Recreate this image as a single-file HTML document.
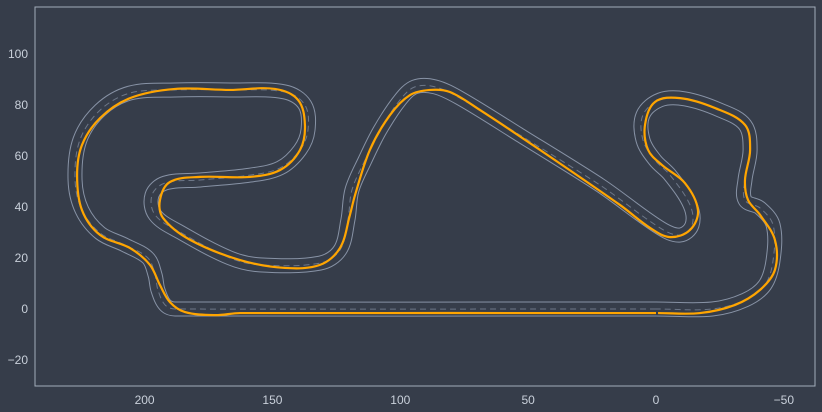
<!DOCTYPE html>
<html><head><meta charset="utf-8"><style>
html,body{margin:0;padding:0;background:#363d4a;}
svg{display:block;font-family:"Liberation Sans",sans-serif;}
</style></head><body>
<svg id="chart" width="822" height="412" viewBox="0 0 822 412"></svg>
<script>
const xTicks=[200,150,100,50,0,-50];
const xTickLabels=["200","150","100","50","0","\u221250"];
const yTicks=[100,80,60,40,20,0,-20];
const yTickLabels=["100","80","60","40","20","0","\u221220"];
const trackX=[0,188.1,192.0,194.8,195.9,198.7,207.7,217.4,224.5,227.2,225.3,217.4,205.7,188.1,166.6,145.1,137.3,136.1,139.2,147,158.8,178.3,192,197.1,195.9,186.2,166.6,154.9,131.4,123.6,120.5,118.9,113.8,107.9,100.1,94.3,86.4,76.7,53.2,21.9,-1.6,-9.4,-14.1,-13.3,-5.5,0.4,5.1,5.1,-1.6,-11.3,-25,-34.8,-36.8,-34.8,-34.8,-40.7,-45.8,-45.8,-42.6,-34.8,-22];
const trackY=[0,0,1.6,7.5,13.3,20,25.1,29.8,38.8,50.6,66.3,78,84.7,85.9,85.9,85.1,80,70.2,62.4,55.3,52.5,50.6,49.4,44.7,36.9,30.2,20,17.3,18,23.1,34.9,46.7,58.4,70.2,82,87.1,87.1,82.7,68.2,48.6,31.8,29,32.9,40.8,52.5,58.4,66.3,76.1,82,82.4,78,72.2,62.4,50.6,42.7,39.6,32.9,19.2,9.4,3.5,0];
const lineX=[0,162.7,172.5,184.2,190.1,194,197.9,205.7,217.4,224.5,226.4,224.5,217.4,205.7,188.1,166.6,149,140,137.3,139.2,147,158.8,178.3,190.1,194,192.8,182.2,162.7,145.1,131.4,123.6,119.7,117.7,111.9,104,96.2,88.4,80.6,68.8,45.4,14.1,2.3,-5.5,-13.3,-16.4,-11.3,-2.3,3.1,4.3,0.4,-9.4,-23.1,-34.8,-36.8,-34.8,-36,-40.7,-46.5,-46.5,-40.7,-30.9,-17.2,-0.8];
const lineY=[-1.6,-1.6,-2.4,-1.2,2.7,9.4,17.3,23.9,29,38.8,52.5,64.3,74.9,82.7,86.3,85.9,86.3,82,72.2,62.4,54.5,51.8,51.8,49.8,42.7,35.7,27.1,19.2,16.1,17.3,23.9,36.9,44.7,62.4,76.1,83.9,85.9,85.1,78,62.4,40.8,31.8,28.2,31,38.8,49.4,56.5,62.4,72.2,81.2,82.7,78.8,72.2,62.4,50.6,42.7,36.9,27.1,15.3,7.5,1.6,-1.6,-1.6];

const NS="http://www.w3.org/2000/svg";
const svg=document.getElementById('chart');
const L=35,R=815,T=7,B=386;
const sx=v=>656-2.557*v;
const sy=v=>309-2.55*v;
function mk(tag,attrs){const e=document.createElementNS(NS,tag);for(const k in attrs)e.setAttribute(k,attrs[k]);svg.appendChild(e);return e;}
function smooth(xs,ys,closed){
  const p=xs.map((x,i)=>[sx(x),sy(ys[i])]);const n=p.length;
  const g=i=>closed?p[(i+n)%n]:p[Math.max(0,Math.min(n-1,i))];
  const tan=i=>{const a=g(i-1),b=g(i+1);const dx=b[0]-a[0],dy=b[1]-a[1];const l=Math.hypot(dx,dy)||1;return [dx/l,dy/l];};
  let d=`M${p[0][0]},${p[0][1]}`;const m=closed?n:n-1;
  for(let i=0;i<m;i++){const p1=g(i),p2=g(i+1);
    const len=Math.hypot(p2[0]-p1[0],p2[1]-p1[1]);
    const t1=tan(i),t2=tan(i+1);const k=Math.min(len/3,25);
    d+=` C${p1[0]+t1[0]*k},${p1[1]+t1[1]*k} ${p2[0]-t2[0]*k},${p2[1]-t2[1]*k} ${p2[0]},${p2[1]}`;}
  return d+(closed?'Z':'');
}
const frame=mk('rect',{x:L,y:T,width:R-L,height:B-T,fill:'none',stroke:'#a3adba','stroke-width':1});


xTicks.forEach((v,i)=>{const t=mk('text',{x:sx(v),y:404,fill:'#c9d0da','font-size':12,'text-anchor':'middle'});t.textContent=xTickLabels[i];
  
  });
yTicks.forEach((v,i)=>{const t=mk('text',{x:28,y:sy(v)+4,fill:'#c9d0da','font-size':12,'text-anchor':'end'});t.textContent=yTickLabels[i];
  
  });
const td=smooth(trackX,trackY,true);
const edge=mk('path',{d:td,fill:'none',stroke:'#8893a6','stroke-width':15});


const surf=mk('path',{d:td,fill:'none',stroke:'#363d4a','stroke-width':13});


const cl=mk('path',{d:td,fill:'none',stroke:'#6d7788','stroke-width':1,'stroke-dasharray':'6,4'});


const rl=mk('path',{d:smooth(lineX,lineY,false),fill:'none',stroke:'#ffa500','stroke-width':2.2,'stroke-linejoin':'round'});


</script>
</body></html>
